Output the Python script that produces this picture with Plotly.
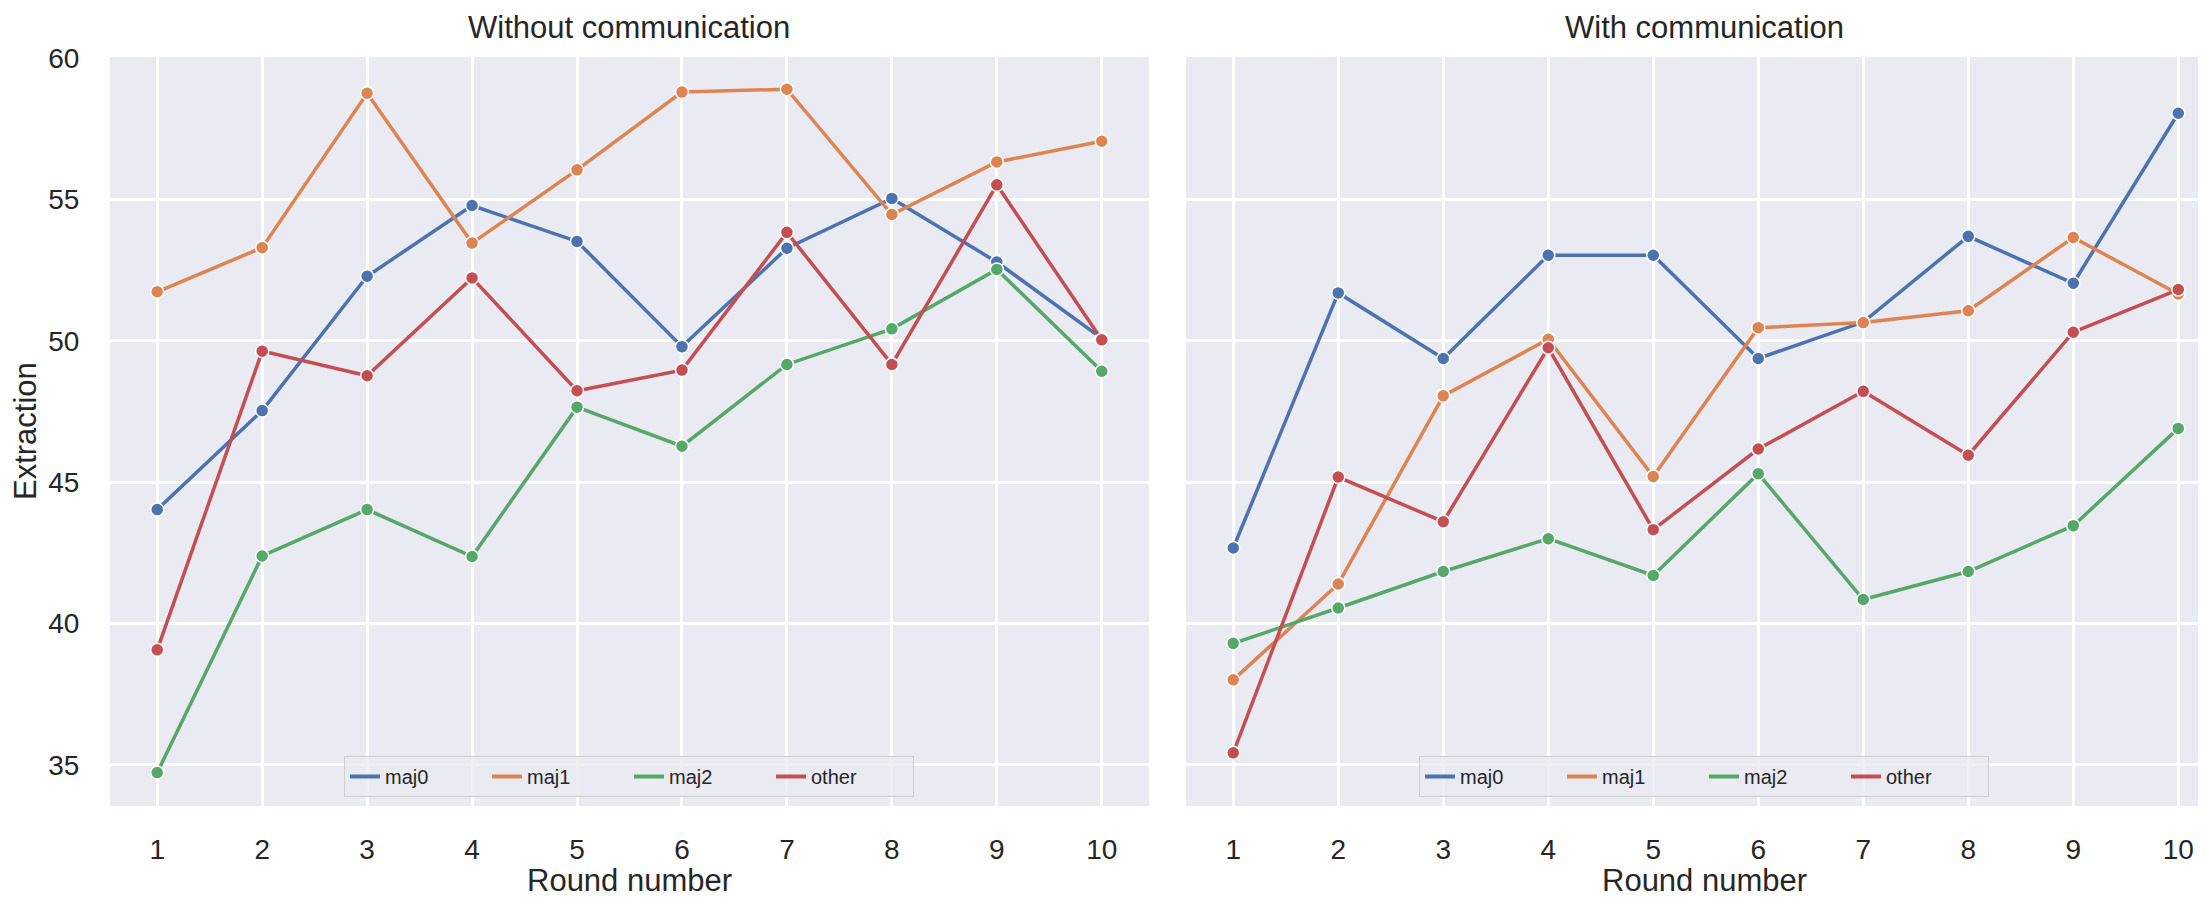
import plotly.graph_objects as go

rounds = [1, 2, 3, 4, 5, 6, 7, 8, 9, 10]
groups = ["maj0", "maj1", "maj2", "other"]
colors = ["#4C72B0", "#DD8452", "#55A868", "#C44E52"]

# Without communication
wo_maj0 = [44.03, 47.53, 52.28, 54.78, 53.51, 49.79, 53.27, 55.03, 52.78, 50.08]
wo_maj1 = [51.73, 53.29, 58.75, 53.45, 56.04, 58.79, 58.89, 54.46, 56.32, 57.05]
wo_maj2 = [34.73, 42.39, 44.03, 42.37, 47.65, 46.27, 49.16, 50.42, 52.52, 48.92]
wo_other = [39.07, 49.63, 48.76, 52.22, 48.23, 48.96, 53.83, 49.16, 55.51, 50.03]

# With communication
w_maj0 = [42.67, 51.69, 49.37, 53.02, 53.02, 49.37, 50.66, 53.69, 52.03, 58.04]
w_maj1 = [38.01, 41.40, 48.05, 50.05, 45.20, 50.46, 50.64, 51.06, 53.65, 51.65]
w_maj2 = [39.30, 40.55, 41.84, 43.00, 41.70, 45.30, 40.85, 41.84, 43.46, 46.90]
w_other = [35.43, 45.18, 43.60, 49.75, 43.32, 46.17, 48.21, 45.95, 50.30, 51.81]

y_ticks = [35, 40, 45, 50, 55, 60]
panel_titles = ["Without communication", "With communication"]
x_title = "Round number"
y_title = "Extraction"

# the page body has an 8px default margin, so the figure is sized to fill the
# remaining window and page positions are converted to figure positions
PAGE_OFF = 8
W, H = 2206 - PAGE_OFF, 897 - PAGE_OFF
FONT = "Liberation Sans, Arial, sans-serif"
TXT = "#262626"
BG = "#EAEAF2"

fig = go.Figure()

panels = [
    ([wo_maj0, wo_maj1, wo_maj2, wo_other], "x", "y", "legend"),
    ([w_maj0, w_maj1, w_maj2, w_other], "x2", "y2", "legend2"),
]
for series, xa, ya, lg in panels:
    for name, vals, col in zip(groups, series, colors):
        fig.add_trace(go.Scatter(
            x=rounds, y=vals, name=name, mode="lines+markers",
            xaxis=xa, yaxis=ya, showlegend=False,
            line=dict(color=col, width=3.5),
            marker=dict(color=col, size=13, line=dict(color="white", width=1.5)),
        ))
    # legend-only line entries (seaborn legend shows lines only)
    for name, col in zip(groups, colors):
        fig.add_trace(go.Scatter(
            x=[None], y=[None], name=name, mode="lines",
            xaxis=xa, yaxis=ya, legend=lg, showlegend=True,
            line=dict(color=col, width=4),
        ))

def px_x(p):
    return (p - PAGE_OFF) / W

def px_y(p):
    return 1 - (p - PAGE_OFF) / H

ydom = [px_y(806), px_y(57)]
axis_common = dict(
    showgrid=True, gridcolor="white", gridwidth=2.5, zeroline=False,
    showline=False, automargin=False, tickcolor="rgba(0,0,0,0)",
    tickfont=dict(family=FONT, size=28, color=TXT),
)
leg_common = dict(
    orientation="h", xanchor="center", y=px_y(797), yanchor="bottom",
    bgcolor="rgba(234,234,242,0.8)", bordercolor="#cccccc", borderwidth=1,
    font=dict(family=FONT, size=20, color=TXT), entrywidth=97,
)
fig.update_layout(
    width=W, height=H,
    margin=dict(l=0, r=0, t=0, b=0, autoexpand=False),
    paper_bgcolor="white", plot_bgcolor=BG,
    font=dict(family=FONT, color=TXT),
    xaxis=dict(domain=[px_x(110), px_x(1149)], range=[0.55, 10.45],
               tickvals=rounds, ticks="outside", ticklen=18, anchor="y", **axis_common),
    xaxis2=dict(domain=[px_x(1186), 1.0], range=[0.55, 10.264],
                tickvals=rounds, ticks="outside", ticklen=18, anchor="y2", **axis_common),
    yaxis=dict(domain=ydom, range=[33.55, 60.03], tickvals=y_ticks,
               ticks="outside", ticklen=24, anchor="x", **axis_common),
    yaxis2=dict(domain=ydom, range=[33.55, 60.03], tickvals=y_ticks,
                showticklabels=False, ticks="", anchor="x2", **axis_common),
    legend=dict(x=px_x(629), **leg_common),
    legend2=dict(x=px_x(1704), **leg_common),
)

ann = []
for cx, t in zip([629, 1704], panel_titles):
    ann.append(dict(text=t, x=px_x(cx), y=px_y(27), xref="paper", yref="paper",
                    xanchor="center", yanchor="middle", showarrow=False,
                    font=dict(family=FONT, size=31, color=TXT)))
    ann.append(dict(text=x_title, x=px_x(cx), y=px_y(880), xref="paper", yref="paper",
                    xanchor="center", yanchor="middle", showarrow=False,
                    font=dict(family=FONT, size=31, color=TXT)))
ann.append(dict(text=y_title, x=px_x(26), y=px_y(431), xref="paper", yref="paper",
                xanchor="center", yanchor="middle", showarrow=False, textangle=-90,
                font=dict(family=FONT, size=31, color=TXT)))
fig.update_layout(annotations=ann)

fig.write_html("out.html")
